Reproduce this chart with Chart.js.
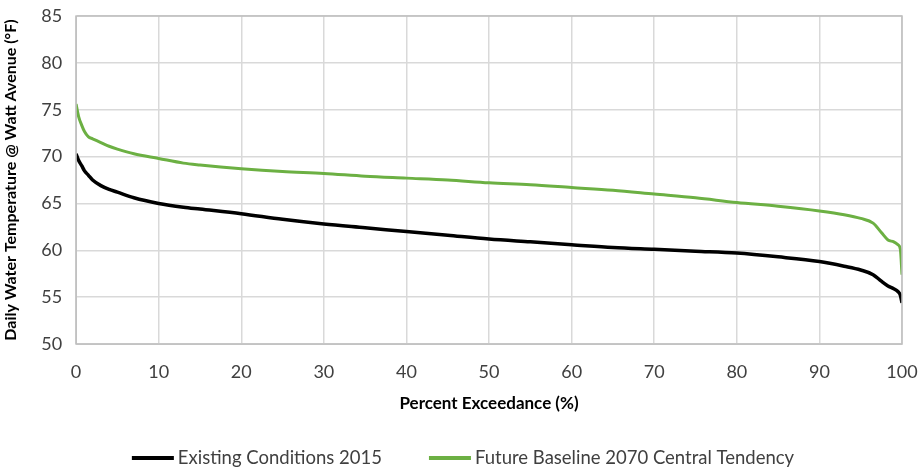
<!DOCTYPE html>
<html>
<head>
<meta charset="utf-8">
<script src="https://cdn.jsdelivr.net/npm/chart.js@4"></script>
<style>
  html, body { margin: 0; padding: 0; background: #fff; }
  #wrap { width: 921px; height: 468px; }
</style>
</head>
<body>
<div id="wrap"><canvas id="chart" width="921" height="468"></canvas></div>
<script>
// percent exceedance positions shared by both curves
const exceedance = [0, 0.3, 0.7, 1, 1.5, 2, 3, 4, 5, 7, 10, 13, 15, 20, 25, 30, 35, 40, 45, 50, 55, 60, 65, 70, 75, 80, 85, 90, 93, 95, 96.5, 97.5, 98.3, 99, 99.5, 99.8, 100];

// daily water temperature (F), existing conditions 2015
const existing2015 = [70.3, 69.6, 69.0, 68.5, 68.0, 67.5, 66.9, 66.5, 66.2, 65.6, 65.0, 64.6, 64.4, 63.9, 63.3, 62.8, 62.4, 62.0, 61.6, 61.2, 60.9, 60.6, 60.3, 60.1, 59.9, 59.7, 59.3, 58.8, 58.3, 57.9, 57.4, 56.7, 56.2, 55.9, 55.6, 55.2, 54.4];

// daily water temperature (F), future baseline 2070 central tendency
const future2070 = [75.6, 74.3, 73.3, 72.7, 72.1, 71.9, 71.5, 71.1, 70.8, 70.3, 69.8, 69.3, 69.1, 68.7, 68.4, 68.2, 67.9, 67.7, 67.5, 67.2, 67.0, 66.7, 66.4, 66.0, 65.6, 65.1, 64.7, 64.2, 63.8, 63.4, 62.9, 61.9, 61.1, 60.9, 60.6, 60.1, 57.4];

const xTicks = [0, 10, 20, 30, 40, 50, 60, 70, 80, 90, 100];
const yTicks = [50, 55, 60, 65, 70, 75, 80, 85];

const toPoints = (ys) => exceedance.map((x, i) => ({ x: x, y: ys[i] }));

// grey frame round the plot area
const plotBorder = {
  id: 'plotBorder',
  afterDraw(chart) {
    const a = chart.chartArea;
    const ctx = chart.ctx;
    ctx.save();
    ctx.strokeStyle = '#bfbfbf';
    ctx.lineWidth = 1.5;
    ctx.strokeRect(a.left, a.top, a.right - a.left, a.bottom - a.top);
    ctx.restore();
  }
};

// legend row at the bottom (line sample + label per dataset)
const bottomLegend = {
  id: 'bottomLegend',
  afterDraw(chart) {
    const ctx = chart.ctx;
    const lineLen = 42, textGap = 4, itemGap = 47, y = 458;
    ctx.save();
    ctx.font = '18.5px Lato';
    ctx.textBaseline = 'middle';
    const items = chart.data.datasets.map((ds) => ({
      label: ds.label,
      color: ds.borderColor,
      w: lineLen + textGap + ctx.measureText(ds.label).width
    }));
    const total = items.reduce((s, it) => s + it.w, 0) + itemGap * (items.length - 1);
    let x = 463 - total / 2;
    items.forEach((it) => {
      ctx.strokeStyle = it.color;
      ctx.lineWidth = 4;
      ctx.beginPath();
      ctx.moveTo(x, y);
      ctx.lineTo(x + lineLen, y);
      ctx.stroke();
      ctx.fillStyle = '#404040';
      ctx.fillText(it.label, x + lineLen + textGap, y);
      x += it.w + itemGap;
    });
    ctx.restore();
  }
};

const tickFont = { family: 'Lato', size: 18 };

new Chart(document.getElementById('chart'), {
  type: 'line',
  data: {
    datasets: [
      {
        label: 'Existing Conditions 2015',
        data: toPoints(existing2015),
        borderColor: '#000000',
        backgroundColor: '#000000',
        borderWidth: 3.5,
        pointRadius: 0,
        cubicInterpolationMode: 'monotone'
      },
      {
        label: 'Future Baseline 2070 Central Tendency',
        data: toPoints(future2070),
        borderColor: '#6cb043',
        backgroundColor: '#6cb043',
        borderWidth: 3,
        pointRadius: 0,
        cubicInterpolationMode: 'monotone'
      }
    ]
  },
  options: {
    responsive: false,
    animation: false,
    layout: { padding: { top: 16, right: 19, left: 1, bottom: 54 } },
    plugins: {
      legend: { display: false },
      tooltip: { enabled: false }
    },
    scales: {
      x: {
        type: 'linear',
        min: 0,
        max: 100,
        afterBuildTicks: (s) => { s.ticks = xTicks.map((v) => ({ value: v })); },
        afterFit: (s) => { s.paddingRight = 0; },
        ticks: { color: '#404040', font: tickFont, padding: 17, maxRotation: 0 },
        grid: { color: '#d9d9d9', lineWidth: 1.5, drawTicks: false },
        title: {
          display: true,
          text: 'Percent Exceedance (%)',
          color: '#000000',
          font: { family: 'Lato', size: 17, weight: 'bold' },
          padding: { top: -6, bottom: 0 }
        }
      },
      y: {
        min: 50,
        max: 85,
        afterBuildTicks: (s) => { s.ticks = yTicks.map((v) => ({ value: v })); },
        afterFit: (s) => { s.paddingTop = 0; },
        ticks: { color: '#404040', font: tickFont, padding: 14 },
        grid: { color: '#d9d9d9', lineWidth: 1.5, drawTicks: false },
        title: {
          display: true,
          text: 'Daily Water Temperature @ Watt Avenue (°F)',
          color: '#000000',
          font: { family: 'Lato', size: 16, weight: 'bold' },
          padding: { top: 0, bottom: 7 }
        }
      }
    }
  },
  plugins: [plotBorder, bottomLegend]
});
</script>
</body>
</html>
